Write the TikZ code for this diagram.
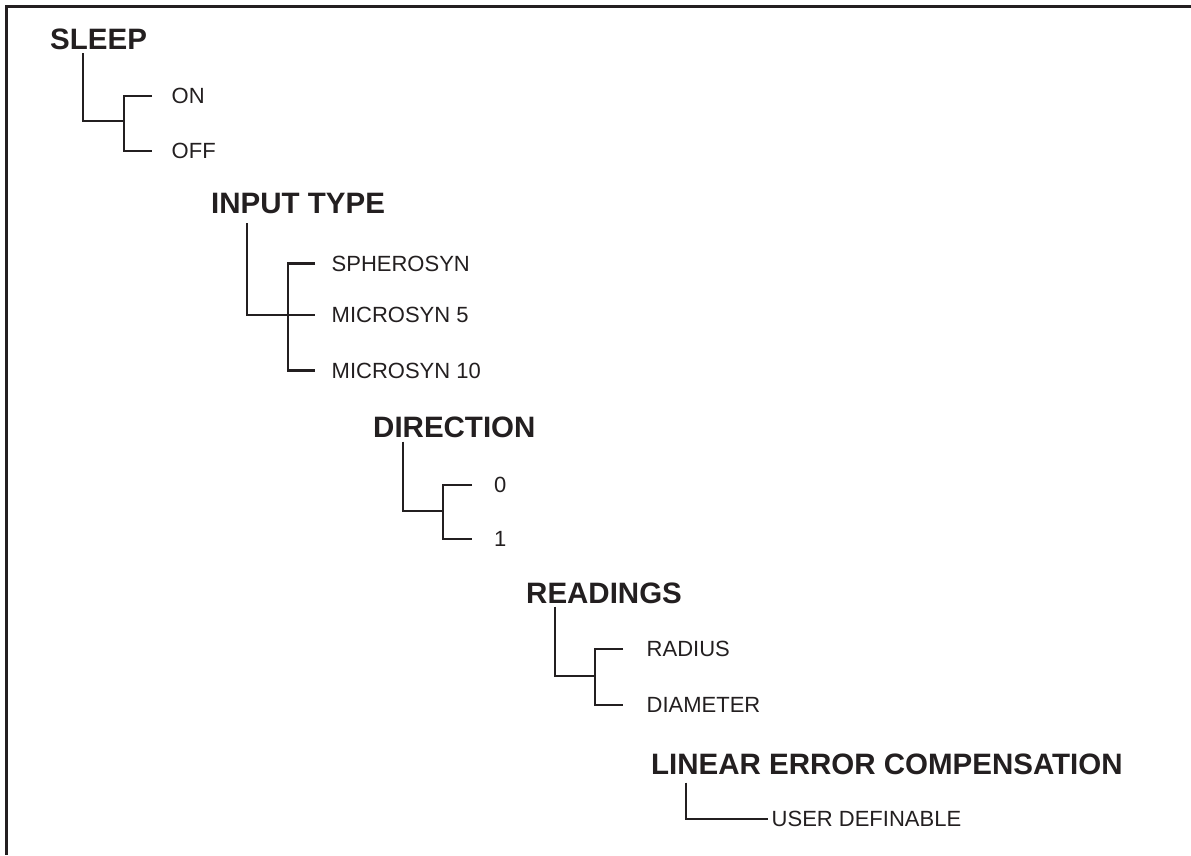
\documentclass[tikz,border=0pt]{standalone}
\usepackage{fontspec}
\setmainfont{Liberation Sans}
\usepackage{tikz}
\usetikzlibrary{calc}
\definecolor{ink}{HTML}{231F20}
\tikzstyle{heading} = [anchor=west, inner sep=0pt, text=ink, font=\bfseries\fontsize{29.5}{32}\selectfont]
\tikzstyle{option} = [anchor=west, inner sep=0pt, text=ink, font=\fontsize{22}{24}\selectfont]
\tikzstyle{branch} = [draw=ink, line width=2.1pt]
\tikzstyle{frame} = [draw=ink, line width=3pt]

\begin{document}
\begin{tikzpicture}[x=1pt, y=-1pt]
		\useasboundingbox (0,0) rectangle (1191,855);
		\draw [frame] (1191,6) -- (6,6) -- (6,855);
		
		\node (Sleep) [heading] at (50,39.5) {SLEEP};
		\node (SleepOn) [option] at (171.5,96) {ON};
		\node (SleepOff) [option] at (171.5,151) {OFF};
		\coordinate (SleepFork) at (124,121);
		
		\node (InputType) [heading] at (211,203) {INPUT TYPE};
		\node (Input01) [option] at (331.5,263.5) {SPHEROSYN};
		\node (Input02) [option] at (331.5,315) {MICROSYN 5};
		\node (Input03) [option] at (331.5,370.5) {MICROSYN 10};
		\coordinate (InputFork) at (288,315);
		
		\node (Direction) [heading] at (373,427) {DIRECTION};
		\node (Direction01) [option] at (494,485) {0};
		\node (Direction02) [option] at (494,539) {1};
		\coordinate (DirectionFork) at (443,511);
		
		\node (Readings) [heading] at (526,593) {READINGS};
		\node (Readings01) [option] at (646.5,649) {RADIUS};
		\node (Readings02) [option] at (646.5,705) {DIAMETER};
		\coordinate (ReadingsFork) at (595,676);
		
		\node (Linear) [heading] at (651,764) {LINEAR ERROR COMPENSATION};
		\node (Linear01) [option] at (771.5,819) {USER DEFINABLE};
		
		%\draw [branch] (Sleep) -- (SleepOn);
		\draw [branch] ($(Sleep.south west)+(33,3)$) |- (SleepFork);
		\draw [branch] ($(SleepOn.west)+(-19.5,0)$) -| (SleepFork) |- ($(SleepOff.west)+(-19.5,0)$);
		
		\draw [branch] ($(InputType.south west)+(36,10)$) |- ($(Input02.west)+(-16.5,0)$);
		\draw [branch] ($(Input01.west)+(-16.5,0)$) -| (InputFork) |- ($(Input03.west)+(-16.5,0)$);
		
		\draw [branch] ($(Direction.south west)+(30,4)$) |- (DirectionFork);
		\draw [branch] ($(Direction01.west)+(-22,0)$) -| (DirectionFork) |- ($(Direction02.west)+(-22,0)$);
		
		\draw [branch] ($(Readings.south west)+(29,3)$) |- (ReadingsFork);
		\draw [branch] ($(Readings01.west)+(-23.5,0)$) -| (ReadingsFork) |- ($(Readings02.west)+(-23.5,0)$);
		
		\draw [branch] ($(Linear.south west)+(35,8)$) |- ($(Linear01.west)+(-3.5,0)$);
\end{tikzpicture}
\end{document}
